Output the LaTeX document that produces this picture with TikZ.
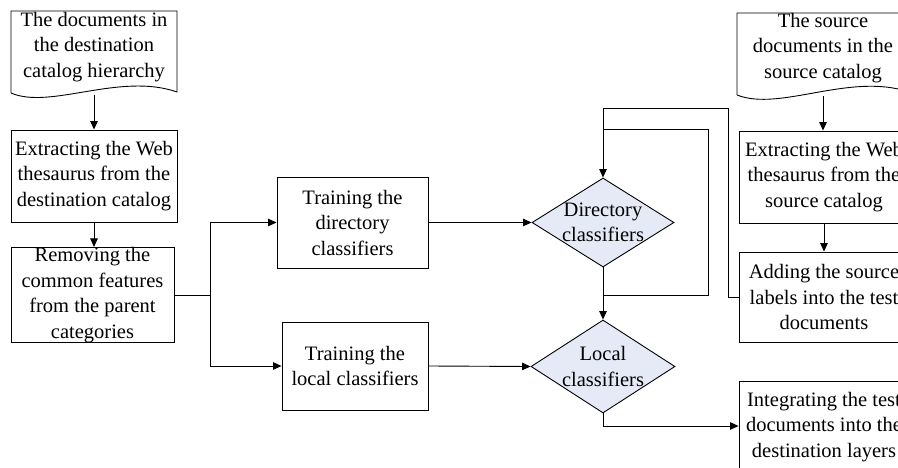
\documentclass[tikz,border=0pt]{standalone}
\usepackage{fontspec}
\setmainfont{Liberation Serif}
\usetikzlibrary{shapes.geometric,arrows.meta,calc}
\definecolor{diafill}{RGB}{230,234,246}
\begin{document}
\begin{tikzpicture}[x=1pt,y=-1pt,
  line width=0.9pt,
  lbl/.style={font=\fontsize{20.5}{25.5}\selectfont},
  arr/.style={-{Triangle[length=8.5pt,width=7.5pt]}},
  box/.style={draw, rectangle, align=center, inner sep=0pt, lbl},
  dia/.style={draw, diamond, fill=diafill, inner sep=0pt},
  txt/.style={align=center, inner sep=0pt, lbl}]
\useasboundingbox (0,0) rectangle (898,468);
\clip (0,0) rectangle (898,468);
% documents
\draw (11,93) -- (11,11) -- (177,11) -- (177,92)
  .. controls (120,72) and (50,110) .. (11,93);
\node[txt] (d1) at (94,47) {The documents in\\the destination\\catalog hierarchy};
\coordinate (d1b) at (94,95);
\draw (737,95) -- (737,13) -- (909,13) -- (909,92)
  .. controls (850,72) and (780,112) .. (737,95);
\node[txt] (sd) at (823,48) {The source\\documents in the\\source catalog};
\coordinate (sdb) at (823,96);
% boxes
\node[box, minimum width=166pt, minimum height=92pt] (b2) at (94,176) {Extracting the Web\\thesaurus from the\\destination catalog};
\node[box, minimum width=163pt, minimum height=92pt] (b3) at (92.5,295) {Removing the\\common features\\from the parent\\categories};
\node[box, minimum width=151pt, minimum height=91pt] (td) at (352.5,222.5) {Training the\\directory\\classifiers};
\node[box, minimum width=146pt, minimum height=88pt] (tl) at (355,366) {Training the\\local classifiers};
\node[dia, minimum width=142pt, minimum height=89pt] (dd) at (603,222.5) {};
\node[txt] (ddt) at (dd.center) {Directory\\classifiers};
\node[dia, minimum width=144pt, minimum height=93pt] (ld) at (603,366.5) {};
\node[txt] (ldt) at (ld.center) {Local\\classifiers};
\node[box, minimum width=170pt, minimum height=92pt] (es) at (824,177) {Extracting the Web\\thesaurus from the\\source catalog};
\node[box, minimum width=170pt, minimum height=90pt] (ad) at (824,297) {Adding the source\\labels into the test\\documents};
\node[box, minimum width=170pt, minimum height=92pt] (ig) at (824,427) {Integrating the test\\documents into the\\destination layers};
% connectors
\draw[arr] (d1b) -- (b2.north);
\draw[arr] (b2.south) -- (b2.south |- b3.north);
\draw (b3.east) -- ++(36,0) coordinate (j);
\draw[arr] (j) |- (td.west);
\draw[arr] (j) |- (tl.west);
\draw[arr] (td.east) -- (dd.west);
\draw[arr] (tl.east) -- (ld.west);
\draw[arr] (dd.south) -- (ld.north);
\coordinate (m) at (603,295);
\draw (m) -- (708,295) -- (708,129) -- (603,129);
\draw[arr] (ad.west) -- (728,297) -- (728,108) -- (603,108) -- (dd.north);
\draw[arr] (sdb) -- (sdb |- es.north);
\draw[arr] (es.south) -- (es.south |- ad.north);
\draw[arr] (ld.south) |- (603,426) -- (ig.west |- 0,426);
\end{tikzpicture}
\end{document}
